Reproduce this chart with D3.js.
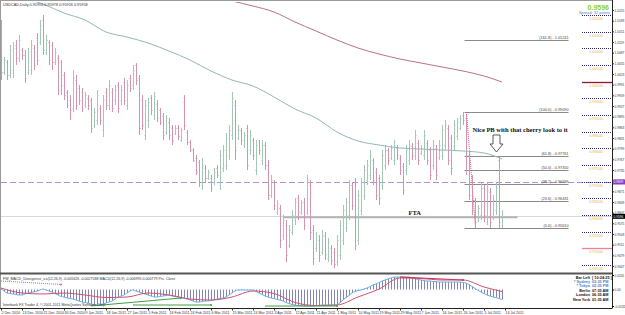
<!DOCTYPE html>
<html>
<head>
<meta charset="utf-8">
<script src="https://cdn.jsdelivr.net/npm/d3@7"></script>
<style>
body { margin: 0; background: #fff; }
</style>
</head>
<body>
<div id="chart"></div>
<script>
// ---- data ----
var opens = [1.0170,1.0029,1.0059,1.0020,1.0035,1.0110,1.0071,1.0095,1.0080,1.0029,
  1.0035,1.0101,1.0131,1.0119,1.0185,1.0089,1.0119,1.0110,1.0059,1.0071,
  1.0059,1.0020,0.9969,0.9945,0.9921,1.0005,0.9981,0.9969,0.9930,0.9951,
  0.9945,0.9870,0.9885,0.9921,0.9855,0.9969,0.9930,0.9969,0.9945,0.9990,
  0.9945,0.9999,0.9930,1.0011,0.9990,1.0050,1.0011,0.9945,0.9840,0.9885,
  0.9951,0.9900,0.9933,0.9915,0.9897,0.9849,0.9879,0.9861,0.9846,0.9861,
  0.9825,0.9939,0.9849,0.9819,0.9795,0.9771,0.9759,0.9690,0.9741,0.9711,
  0.9711,0.9699,0.9741,0.9690,0.9741,0.9750,0.9780,0.9840,0.9930,0.9831,
  0.9855,0.9810,0.9861,0.9795,0.9825,0.9735,0.9819,0.9765,0.9810,0.9750,
  0.9660,0.9699,0.9609,0.9621,0.9540,0.9570,0.9510,0.9549,0.9585,0.9651,
  0.9609,0.9639,0.9609,0.9690,0.9555,0.9501,0.9525,0.9489,0.9537,0.9471,
  0.9501,0.9489,0.9459,0.9480,0.9525,0.9561,0.9600,0.9690,0.9699,0.9525,
  0.9615,0.9660,0.9705,0.9720,0.9765,0.9729,0.9711,0.9690,0.9750,0.9795,
  0.9771,0.9765,0.9801,0.9771,0.9747,0.9735,0.9765,0.9807,0.9777,0.9816,
  0.9786,0.9780,0.9816,0.9795,0.9750,0.9801,0.9774,0.9780,0.9810,0.9861,
  0.9831,0.9807,0.9837,0.9861,0.9900,0.9891,0.9780,0.9705,0.9645,0.9585,
  0.9600,0.9681,0.9579,0.9669,0.9597,0.9615,0.9765,0.9570];
var highs = [1.0185,1.0074,1.0065,1.0110,1.0119,1.0125,1.0140,1.0101,1.0095,1.0101,
  1.0125,1.0110,1.0146,1.0185,1.0200,1.0140,1.0125,1.0119,1.0101,1.0080,
  1.0065,1.0029,0.9975,0.9960,1.0035,1.0020,0.9990,0.9981,0.9969,0.9960,
  0.9951,0.9921,0.9975,0.9930,0.9960,0.9981,1.0005,0.9981,0.9990,0.9999,
  0.9990,1.0011,1.0005,1.0020,1.0050,1.0056,1.0020,0.9960,0.9945,0.9951,
  0.9960,0.9969,0.9945,0.9921,0.9906,0.9900,0.9891,0.9870,0.9870,0.9870,
  0.9861,0.9960,0.9855,0.9825,0.9801,0.9780,0.9765,0.9771,0.9750,0.9735,
  0.9720,0.9741,0.9750,0.9795,0.9810,0.9846,0.9870,0.9969,0.9945,0.9870,
  0.9861,0.9849,0.9870,0.9855,0.9831,0.9825,0.9825,0.9825,0.9819,0.9765,
  0.9720,0.9705,0.9645,0.9630,0.9600,0.9585,0.9570,0.9615,0.9651,0.9660,
  0.9645,0.9651,0.9720,0.9705,0.9570,0.9549,0.9540,0.9555,0.9549,0.9531,
  0.9510,0.9501,0.9540,0.9585,0.9630,0.9651,0.9705,0.9699,0.9711,0.9675,
  0.9711,0.9750,0.9765,0.9795,0.9771,0.9741,0.9720,0.9795,0.9810,0.9801,
  0.9810,0.9825,0.9810,0.9780,0.9756,0.9810,0.9825,0.9816,0.9855,0.9825,
  0.9810,0.9855,0.9825,0.9804,0.9825,0.9810,0.9825,0.9870,0.9885,0.9870,
  0.9840,0.9885,0.9891,0.9900,0.9909,0.9900,0.9795,0.9720,0.9651,0.9630,
  0.9696,0.9690,0.9696,0.9681,0.9660,0.9696,0.9774,0.9615];
var lows = [1.0005,1.0020,1.0005,1.0011,1.0011,1.0050,1.0059,1.0065,0.9996,1.0020,
  1.0020,1.0035,1.0050,1.0110,1.0080,1.0080,1.0050,1.0035,1.0050,0.9960,
  0.9960,0.9945,0.9921,0.9885,0.9909,0.9915,0.9930,0.9909,0.9921,0.9915,
  0.9846,0.9861,0.9870,0.9870,0.9834,0.9915,0.9915,0.9909,0.9930,0.9906,
  0.9930,0.9930,0.9915,0.9969,0.9975,0.9990,0.9840,0.9855,0.9825,0.9861,
  0.9900,0.9885,0.9879,0.9870,0.9825,0.9840,0.9825,0.9810,0.9840,0.9825,
  0.9819,0.9855,0.9810,0.9789,0.9759,0.9720,0.9684,0.9675,0.9696,0.9705,
  0.9669,0.9690,0.9711,0.9675,0.9729,0.9735,0.9765,0.9825,0.9765,0.9825,
  0.9810,0.9801,0.9735,0.9780,0.9765,0.9720,0.9780,0.9750,0.9735,0.9645,
  0.9651,0.9615,0.9600,0.9501,0.9525,0.9459,0.9501,0.9540,0.9570,0.9585,
  0.9600,0.9555,0.9600,0.9525,0.9450,0.9489,0.9459,0.9480,0.9465,0.9459,
  0.9450,0.9441,0.9447,0.9465,0.9510,0.9549,0.9585,0.9615,0.9495,0.9510,
  0.9600,0.9645,0.9690,0.9705,0.9690,0.9645,0.9630,0.9675,0.9735,0.9750,
  0.9765,0.9750,0.9765,0.9720,0.9660,0.9720,0.9750,0.9765,0.9765,0.9750,
  0.9780,0.9765,0.9750,0.9705,0.9735,0.9705,0.9765,0.9765,0.9795,0.9750,
  0.9720,0.9795,0.9825,0.9855,0.9870,0.9720,0.9645,0.9600,0.9561,0.9579,
  0.9585,0.9579,0.9570,0.9561,0.9585,0.9600,0.9561,0.9561];
var closes = [1.0029,1.0065,1.0020,1.0095,1.0101,1.0071,1.0125,1.0080,1.0011,1.0089,
  1.0110,1.0050,1.0065,1.0170,1.0095,1.0125,1.0065,1.0059,1.0089,0.9975,
  0.9990,0.9960,0.9930,0.9915,1.0011,0.9930,0.9945,0.9921,0.9960,0.9930,
  0.9861,0.9909,0.9960,0.9885,0.9945,0.9930,0.9990,0.9921,0.9975,0.9921,
  0.9975,0.9945,0.9990,0.9981,1.0035,1.0005,0.9861,0.9870,0.9930,0.9939,
  0.9915,0.9957,0.9891,0.9879,0.9840,0.9891,0.9840,0.9825,0.9861,0.9837,
  0.9855,0.9870,0.9819,0.9795,0.9765,0.9729,0.9699,0.9750,0.9711,0.9729,
  0.9681,0.9729,0.9720,0.9780,0.9795,0.9831,0.9855,0.9951,0.9795,0.9855,
  0.9825,0.9840,0.9750,0.9840,0.9780,0.9810,0.9795,0.9810,0.9750,0.9660,
  0.9705,0.9630,0.9636,0.9525,0.9585,0.9480,0.9555,0.9600,0.9639,0.9609,
  0.9636,0.9570,0.9705,0.9549,0.9471,0.9537,0.9480,0.9540,0.9483,0.9519,
  0.9465,0.9453,0.9525,0.9570,0.9615,0.9639,0.9690,0.9630,0.9510,0.9660,
  0.9699,0.9735,0.9750,0.9780,0.9705,0.9660,0.9651,0.9780,0.9795,0.9765,
  0.9801,0.9810,0.9780,0.9735,0.9675,0.9795,0.9810,0.9780,0.9840,0.9765,
  0.9801,0.9840,0.9765,0.9720,0.9810,0.9720,0.9810,0.9855,0.9870,0.9765,
  0.9741,0.9870,0.9879,0.9891,0.9885,0.9735,0.9660,0.9615,0.9579,0.9621,
  0.9681,0.9600,0.9675,0.9579,0.9645,0.9681,0.9579,0.9596];

// moving averages, read at every date label
var ma100Idx = [7,14,21,28,35,42,49,56,63,70,77,84,91,98,105,112,119,126,133,140,147,154,161,167];
var ma100 = [1.0254,1.0233,1.0206,1.0185,1.0149,1.0134,1.0116,1.0092,1.0065,1.0032,1.0005,0.9987,
  0.9954,0.9918,0.9891,0.9849,0.9822,0.9810,0.9801,0.9798,0.9795,0.9792,0.9786,0.9768];
var ma200Idx = [63,70,77,84,91,98,105,112,119,126,133,140,147,154,161,167];
var ma200 = [1.0275,1.0257,1.0242,1.0227,1.0209,1.0179,1.0152,1.0125,1.0101,1.0083,1.0068,1.0056,
  1.0044,1.0032,1.0017,0.9999];

// MACD main (histogram + blue line), one per bar
var macd = [0.0008,-0.0012,-0.0028,-0.0032,-0.0036,-0.0040,-0.0044,-0.0044,-0.0036,-0.0028,
  -0.0024,-0.0020,-0.0012,-0.0004,0.0004,-0.0004,-0.0012,-0.0020,-0.0032,-0.0044,
  -0.0056,-0.0060,-0.0068,-0.0072,-0.0076,-0.0084,-0.0092,-0.0100,-0.0104,-0.0108,
  -0.0116,-0.0120,-0.0124,-0.0120,-0.0116,-0.0108,-0.0100,-0.0092,-0.0076,-0.0060,
  -0.0052,-0.0044,-0.0028,-0.0012,-0.0004,-0.0012,-0.0020,-0.0028,-0.0036,-0.0044,
  -0.0052,-0.0060,-0.0060,-0.0056,-0.0052,-0.0048,-0.0044,-0.0052,-0.0056,-0.0060,
  -0.0064,-0.0068,-0.0076,-0.0084,-0.0092,-0.0100,-0.0100,-0.0096,-0.0092,-0.0092,
  -0.0088,-0.0084,-0.0076,-0.0072,-0.0068,-0.0060,-0.0044,-0.0028,-0.0012,-0.0004,
  -0.0004,-0.0004,-0.0004,-0.0004,-0.0004,-0.0016,-0.0028,-0.0040,-0.0052,-0.0060,
  -0.0068,-0.0072,-0.0080,-0.0084,-0.0092,-0.0104,-0.0112,-0.0120,-0.0124,-0.0128,
  -0.0128,-0.0132,-0.0132,-0.0132,-0.0132,-0.0128,-0.0128,-0.0124,-0.0124,-0.0124,
  -0.0124,-0.0124,-0.0124,-0.0104,-0.0084,-0.0064,-0.0048,-0.0028,-0.0016,-0.0008,
  -0.0004,0.0004,0.0012,0.0024,0.0036,0.0044,0.0056,0.0068,0.0076,0.0084,
  0.0092,0.0100,0.0100,0.0100,0.0100,0.0100,0.0100,0.0092,0.0088,0.0080,
  0.0076,0.0072,0.0068,0.0068,0.0064,0.0064,0.0060,0.0060,0.0060,0.0060,
  0.0060,0.0060,0.0060,0.0060,0.0056,0.0052,0.0040,0.0024,0.0008,-0.0008,
  -0.0020,-0.0032,-0.0044,-0.0052,-0.0060,-0.0064,-0.0072,-0.0080];
var signalIdx = [0,7,14,21,28,35,42,49,56,63,70,77,84,91,98,105,112,119,126,133,140,147,154,161,167];
var signal = [0.0012,-0.0028,-0.0036,-0.0028,-0.0044,-0.0064,-0.0060,-0.0028,-0.0044,-0.0076,-0.0084,-0.0060,
  -0.0012,-0.0032,-0.0104,-0.0128,-0.0124,-0.0060,0.0004,0.0092,0.0088,0.0076,0.0076,0.0020,-0.0016];
// divergence lines [fromBar, fromValue, toBar, toValue, colour, dashed]
var divergences = [
  [0, 0.0068, 20, 0.0040, "#e06080", true],
  [30, -0.0132, 60, -0.0068, "#40a040", false],
  [44, -0.0124, 70, -0.0124, "#40a040", false],
  [88, -0.0132, 112, -0.0132, "#40a040", false],
  [133, 0.0100, 154, 0.0076, "#d03050", false]
];

var dateLabels = ["2 Dec 2010","13 Dec 2010","21 Dec 2010","30 Dec 2010","9 Jan 2011","18 Jan 2011",
  "27 Jan 2011","5 Feb 2011","16 Feb 2011","24 Feb 2011","6 Mar 2011","15 Mar 2011","24 Mar 2011",
  "3 Apr 2011","12 Apr 2011","21 Apr 2011","1 May 2011","10 May 2011","19 May 2011","29 May 2011",
  "7 Jun 2011","16 Jun 2011","26 Jun 2011","5 Jul 2011","14 Jul 2011"];
var priceTicks = [1.0215,1.0183,1.0151,1.0119,1.0087,1.0055,1.0023,0.9991,0.9959,0.9927,0.9895,
  0.9863,0.9831,0.9799,0.9767,0.9735,0.9703,0.9671,0.9639,0.9607,0.9575,0.9543,0.9511,0.9479,0.9447];
var roundLevels = [1.020,1.015,1.010,1.005,1.000,0.995,0.990,0.985,0.980,0.975,0.970,0.965,0.960,0.955,0.950,0.945];
var macdTicks = [0.0116, 0, -0.0132];
var macdTickLabels = ["0.0116", "0.00", "-0.0132"];
var fibRatios = [0, 23.6, 38.2, 50, 61.8, 100, 161.8];
var fibHigh = 0.9909, fibLow = 0.9561;
var bid = 0.9596;
var ftaLevel = 0.9593;
var purpleLevel = 0.9699;
var clockNames = ["Bar Left", "* Sydney", "* Tokyo", "Berlin", "London", "New York"];
var clockTimes = ["[ 10:24:25 ]", "03:35 PM", "02:35 PM", "07:35 AM", "06:35 AM", "01:35 AM"];

// ---- layout ----
var w = 625, h = 315;
var axisX = 612;
var mainTop = 2, mainBottom = 273;
var subTop = 275, subBottom = 308;
var sans = "Liberation Sans, Arial, sans-serif";
var serif = "Liberation Serif, Times New Roman, serif";

var svg = d3.select("#chart").append("svg")
  .attr("width", w).attr("height", h)
  .attr("font-family", sans);

var x = d3.scaleLinear().domain([0, 1]).range([1, 4]);
var y = d3.scaleLinear().domain([0.9435, 1.0245]).range([270, 0]);
var ym = d3.scaleLinear().domain([-0.0132, 0.0116]).range([306, 275]);
function px(i) { return Math.round(x(i)) + 0.5; }

var defs = svg.append("defs");
defs.append("clipPath").attr("id", "mainClip")
  .append("rect").attr("x", 1).attr("y", mainTop).attr("width", axisX - 1).attr("height", mainBottom - mainTop);
defs.append("clipPath").attr("id", "subClip")
  .append("rect").attr("x", 1).attr("y", subTop).attr("width", axisX - 1).attr("height", subBottom - subTop);

var main = svg.append("g").attr("clip-path", "url(#mainClip)");

// bid line and FTA zone line
main.append("line")
  .attr("x1", 1).attr("x2", axisX).attr("y1", Math.round(y(bid)) + 0.5).attr("y2", Math.round(y(bid)) + 0.5)
  .attr("stroke", "#d8d8d8");
main.append("line")
  .attr("x1", px(94)).attr("x2", px(172)).attr("y1", y(ftaLevel)).attr("y2", y(ftaLevel))
  .attr("stroke", "#b4b4b4").attr("stroke-width", 2);
main.append("text").attr("x", px(135.7)).attr("y", y(ftaLevel) - 2)
  .attr("font-family", serif).attr("font-weight", "bold")
  .attr("font-size", "6.5px").attr("fill", "#111").text("FTA");

// purple dashed level
main.append("line")
  .attr("x1", 1).attr("x2", axisX).attr("y1", Math.round(y(purpleLevel)) + 0.5).attr("y2", Math.round(y(purpleLevel)) + 0.5)
  .attr("stroke", "#b090d0").attr("stroke-dasharray", "6,3");

// fibonacci levels
var fibRange = fibHigh - fibLow;
var fib = main.append("g");
fibRatios.forEach(function(r) {
  var p = fibLow + fibRange * r / 100;
  var yy = Math.round(y(p)) + 0.5;
  fib.append("line").attr("x1", px(154.4)).attr("x2", px(189))
    .attr("y1", yy).attr("y2", yy).attr("stroke", "#8a8a8a");
  fib.append("text").attr("x", px(189)).attr("y", yy - 1.5)
    .attr("text-anchor", "end").attr("font-size", "3.8px").attr("fill", "#444")
    .text("(" + d3.format(".1f")(r) + ") - " + d3.format(".5f")(p));
});
fib.append("line")
  .attr("x1", px(155)).attr("y1", y(fibHigh)).attr("x2", px(158)).attr("y2", y(fibLow))
  .attr("stroke", "#d05080").attr("stroke-dasharray", "1,1");

// price bars
var bars = main.append("g");
opens.forEach(function(o, i) {
  var c = closes[i];
  var col = c >= o ? "#a4c8b3" : "#d494b0";
  var xx = px(i);
  bars.append("line").attr("x1", xx).attr("x2", xx)
    .attr("y1", y(highs[i])).attr("y2", y(lows[i])).attr("stroke", col);
  bars.append("line").attr("x1", xx - 1).attr("x2", xx)
    .attr("y1", Math.round(y(o)) + 0.5).attr("y2", Math.round(y(o)) + 0.5).attr("stroke", col);
  bars.append("line").attr("x1", xx).attr("x2", xx + 1)
    .attr("y1", Math.round(y(c)) + 0.5).attr("y2", Math.round(y(c)) + 0.5).attr("stroke", col);
});

// moving averages
var maLine = d3.line().curve(d3.curveMonotoneX)
  .x(function(d) { return x(d[0]); }).y(function(d) { return y(d[1]); });
main.append("path").datum(ma100Idx.map(function(i, k) { return [i, ma100[k]]; }))
  .attr("d", maLine).attr("fill", "none").attr("stroke", "#93b6bb").attr("stroke-width", 1);
main.append("path").datum(ma200Idx.map(function(i, k) { return [i, ma200[k]]; }))
  .attr("d", maLine).attr("fill", "none").attr("stroke", "#b9708e").attr("stroke-width", 1);

// annotation
main.append("text").attr("x", px(157)).attr("y", 132)
  .attr("font-family", serif).attr("font-weight", "bold")
  .attr("font-size", "6.5px").attr("fill", "#111")
  .text("Nice PB with that cherry look to it");
var ax = px(165), tipY = y(ma100[ma100.length - 2]) - 1;
main.append("path")
  .attr("d", "M" + (ax - 3.5) + "," + (tipY - 17) + "H" + (ax + 3.5) + "V" + (tipY - 8) +
    "H" + (ax + 6.5) + "L" + ax + "," + tipY + "L" + (ax - 6.5) + "," + (tipY - 8) +
    "H" + (ax - 3.5) + "Z")
  .attr("fill", "#fff").attr("stroke", "#333").attr("stroke-width", 0.8);

// round-number levels on the right
var lv = svg.append("g");
roundLevels.forEach(function(p) {
  var yy = Math.round(y(p)) + 0.5;
  var special = Math.abs(p - 1) < 1e-9 ? "#8b1a2e" : (Math.abs(p - 0.95) < 1e-9 ? "#ef7ea0" : null);
  lv.append("line").attr("x1", 582).attr("x2", axisX).attr("y1", yy).attr("y2", yy)
    .attr("stroke", special || "#2a2a8a")
    .attr("stroke-width", special ? 1.3 : 1)
    .attr("stroke-dasharray", special ? null : "1,1");
  lv.append("text").attr("x", 596).attr("y", yy + 4.5).attr("text-anchor", "middle")
    .attr("font-size", "3.8px").attr("fill", "#eeb04a").text(d3.format(".5f")(p));
});

// frame
svg.append("rect").attr("x", 0.5).attr("y", 0.5).attr("width", axisX).attr("height", subBottom)
  .attr("fill", "none").attr("stroke", "#999");
svg.append("line").attr("x1", 0).attr("x2", axisX).attr("y1", mainBottom + 0.5).attr("y2", mainBottom + 0.5)
  .attr("stroke", "#555").attr("stroke-width", 2);
svg.append("line").attr("x1", axisX + 0.5).attr("x2", axisX + 0.5).attr("y1", 0).attr("y2", subBottom)
  .attr("stroke", "#222");
svg.append("line").attr("x1", 0).attr("x2", axisX).attr("y1", subBottom + 0.5).attr("y2", subBottom + 0.5)
  .attr("stroke", "#222");

// right price axis
var yAxis = d3.axisRight(y).tickValues(priceTicks).tickFormat(d3.format(".4f")).tickSize(1.5).tickPadding(0.5);
var gy = svg.append("g").attr("transform", "translate(" + (axisX + 0.5) + ",0)").call(yAxis)
  .attr("font-family", sans);
gy.select(".domain").remove();
gy.selectAll("text").attr("font-size", "3.2px").attr("fill", "#333");
gy.selectAll("line").attr("stroke", "#333");

// axis flags for purple level and bid
[[purpleLevel, "#8a3cc8"], [bid, "#000"]].forEach(function(f) {
  var yy = y(f[0]);
  svg.append("rect").attr("x", axisX + 1).attr("y", yy - 2.5).attr("width", 12).attr("height", 5).attr("fill", f[1]);
  svg.append("text").attr("x", axisX + 1.5).attr("y", yy + 1.2).attr("font-size", "3.2px")
    .attr("fill", "#fff").text(d3.format(".4f")(f[0]));
});

// MACD sub-window
var sub = svg.append("g").attr("clip-path", "url(#subClip)");
macd.forEach(function(v, i) {
  sub.append("line").attr("x1", px(i)).attr("x2", px(i))
    .attr("y1", ym(0)).attr("y2", ym(v)).attr("stroke", "#8486b4");
});
var mLine = d3.line().curve(d3.curveMonotoneX)
  .x(function(d) { return x(d[0]); }).y(function(d) { return ym(d[1]); });
sub.append("path").datum(macd.map(function(v, i) { return [i, v]; }))
  .attr("d", mLine).attr("fill", "none").attr("stroke", "#6aaee8").attr("stroke-width", 1);
sub.append("path").datum(signalIdx.map(function(i, k) { return [i, signal[k]]; }))
  .attr("d", mLine).attr("fill", "none").attr("stroke", "#d0506e").attr("stroke-width", 1);
divergences.forEach(function(d) {
  sub.append("line").attr("x1", x(d[0])).attr("y1", ym(d[1])).attr("x2", x(d[2])).attr("y2", ym(d[3]))
    .attr("stroke", d[4]).attr("stroke-dasharray", d[5] ? "1,1" : null);
  sub.append("circle").attr("cx", x(d[2])).attr("cy", ym(d[3])).attr("r", 1).attr("fill", d[4]);
});

var macdAxis = d3.axisRight(ym).tickValues(macdTicks)
  .tickFormat(function(d, i) { return macdTickLabels[i]; }).tickSize(1.5).tickPadding(0.5);
var gm = svg.append("g").attr("transform", "translate(" + (axisX + 0.5) + ",0)").call(macdAxis)
  .attr("font-family", sans);
gm.select(".domain").remove();
gm.selectAll("text").attr("font-size", "3.2px").attr("fill", "#333");

// bottom date axis
var labelIdx = dateLabels.map(function(d, i) { return i * 7; });
var xAxis = d3.axisBottom(x).tickValues(labelIdx)
  .tickFormat(function(d, i) { return dateLabels[i]; }).tickSize(2).tickPadding(1);
var gx = svg.append("g").attr("transform", "translate(0," + (subBottom + 0.5) + ")").call(xAxis)
  .attr("font-family", sans);
gx.select(".domain").remove();
gx.selectAll("text").attr("font-size", "3.6px").attr("fill", "#333").attr("text-anchor", "start");
gx.selectAll("line").attr("stroke", "#333");

// captions
svg.append("text").attr("x", 3).attr("y", 6).attr("font-size", "3.8px").attr("fill", "#333")
  .text("USDCAD,Daily  0.95956 0.95978 0.95926 0.95958");
svg.append("text").attr("x", 3).attr("y", 279.5).attr("font-size", "3.6px").attr("fill", "#333")
  .text("FW_MACD_Divergence_v.x(12,26,9) -0.005626 -0.0027588 MACD(12,26,9) -0.006995 0.000779 Prc. Close");
svg.append("text").attr("x", 3).attr("y", 306).attr("font-size", "3.6px").attr("fill", "#333")
  .text("Interbank FX Trader 4, \u00a9 2001-2011 MetaQuotes Software Corp.");
svg.append("text").attr("x", 609).attr("y", 9.5).attr("text-anchor", "end")
  .attr("font-size", "7px").attr("font-weight", "bold").attr("fill", "#8ad416").text(d3.format(".4f")(bid));
svg.append("text").attr("x", 610).attr("y", 13.5).attr("text-anchor", "end")
  .attr("font-size", "4px").attr("fill", "#5a88a8").text("Spread: 32 points");

// session clock
clockNames.forEach(function(n, i) {
  var yy = 278.5 + i * 4.4;
  var col = (i === 1 || i === 2) ? "#4a7ec0" : "#111";
  svg.append("text").attr("x", 590).attr("y", yy).attr("text-anchor", "end")
    .attr("font-size", "3.8px").attr("font-weight", "bold").attr("fill", col).text(n);
  svg.append("text").attr("x", 592).attr("y", yy)
    .attr("font-size", "3.8px").attr("font-weight", "bold").attr("fill", col).text(clockTimes[i]);
});
</script>
</body>
</html>
